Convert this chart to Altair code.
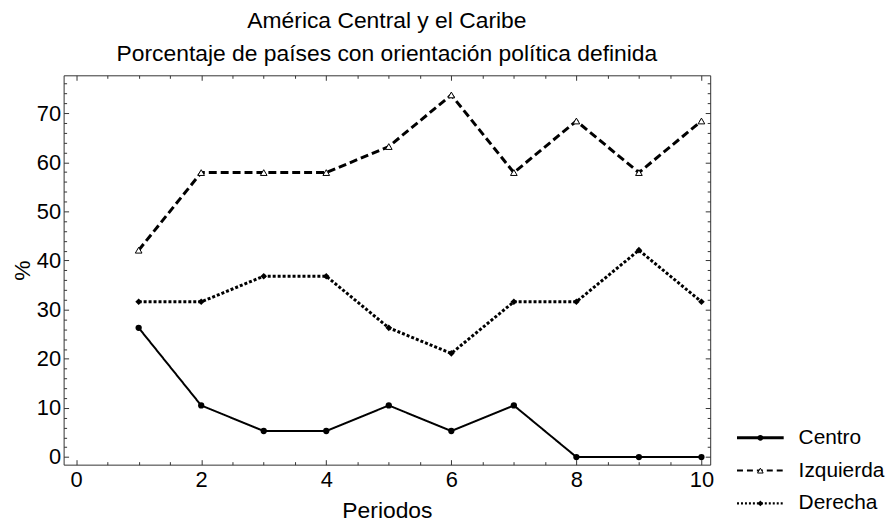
import altair as alt
import pandas as pd

# ---------------- data ----------------
periods = [1, 2, 3, 4, 5, 6, 7, 8, 9, 10]
centro = [26.3, 10.5, 5.3, 5.3, 10.5, 5.3, 10.5, 0.0, 0.0, 0.0]
izquierda = [42.1, 57.9, 57.9, 57.9, 63.2, 73.7, 57.9, 68.4, 57.9, 68.4]
derecha = [31.6, 31.6, 36.8, 36.8, 26.3, 21.1, 31.6, 31.6, 42.1, 31.6]
series = ["Centro", "Izquierda", "Derecha"]

x_major = [0, 2, 4, 6, 8, 10]
x_minor = [0.5, 1, 1.5, 2.5, 3, 3.5, 4.5, 5, 5.5, 6.5, 7, 7.5, 8.5, 9, 9.5]
y_major = [0, 10, 20, 30, 40, 50, 60, 70]
y_minor = [2, 4, 6, 8, 12, 14, 16, 18, 22, 24, 26, 28, 32, 34, 36, 38,
           42, 44, 46, 48, 52, 54, 56, 58, 62, 64, 66, 68, 72, 74, 76]

legend_x = [0, 1]
legend_mid = 0.5

# ---------------- styling ----------------
FONT = "Liberation Sans"
FS = 22        # tick labels
FS_T = 23      # titles
FRAME = "#333333"
XD = [-0.2, 10.14]
YD = [-1.55, 77.7]
W, H = 651, 392

line_styles = {
    "Centro": dict(strokeDash=[1, 0], strokeWidth=2),
    "Izquierda": dict(strokeDash=[8, 4], strokeWidth=3),
    "Derecha": dict(strokeDash=[3, 2], strokeWidth=3),
}
legend_line_styles = {
    "Centro": dict(strokeDash=[1, 0], strokeWidth=3),
    "Izquierda": dict(strokeDash=[6, 4], strokeWidth=2),
    "Derecha": dict(strokeDash=[2, 2], strokeWidth=2.5),
}
point_styles = {
    "Centro": dict(shape="circle", filled=True, color="black", size=40),
    "Izquierda": dict(shape="triangle-up", filled=True, fill="white", stroke="black",
                      strokeWidth=1, size=45),
    "Derecha": dict(shape="diamond", filled=True, color="black", size=45),
}

rows = []
for name, vals in zip(series, [centro, izquierda, derecha]):
    for p, v in zip(periods, vals):
        rows.append({"Periodo": p, "Valor": v, "Serie": name})
df = pd.DataFrame(rows)


def xenc(axis):
    return alt.X("Periodo:Q", scale=alt.Scale(domain=XD, nice=False, zero=False), axis=axis)


def yenc(axis):
    return alt.Y("Valor:Q", scale=alt.Scale(domain=YD, nice=False, zero=False), axis=axis)


def tick_axis(orient, values, size, labeled=False, title=None, title_padding=0,
              label_padding=3):
    kw = dict(orient=orient, values=values, tickSize=size, offset=-size,
              domain=False, grid=False, tickColor=FRAME, tickWidth=1,
              labels=labeled, title=title)
    if labeled:
        kw.update(labelFontSize=FS, labelFont=FONT, labelColor="black",
                  labelPadding=label_padding, labelFlush=False, labelOverlap=False,
                  titleFontSize=FS_T, titleFont=FONT, titleFontWeight="normal",
                  titleColor="black", titlePadding=title_padding)
    return alt.Axis(**kw)


layers = []
first = True
for name in series:
    base = alt.Chart(df).transform_filter(alt.datum.Serie == name)
    if first:
        ax_x = tick_axis("bottom", x_major, 5, labeled=True, title="Periodos",
                         title_padding=9, label_padding=5)
        ax_y = tick_axis("left", y_major, 5, labeled=True, title="%",
                         title_padding=2, label_padding=3)
        first = False
    else:
        ax_x = None
        ax_y = None
    layers.append(base.mark_line(color="black", **line_styles[name]).encode(
        x=xenc(ax_x), y=yenc(ax_y)))

for name in series:
    base = alt.Chart(df).transform_filter(alt.datum.Serie == name)
    layers.append(base.mark_point(opacity=1, **point_styles[name]).encode(
        x=xenc(None), y=yenc(None)))

ghost = alt.Chart(df).mark_point(opacity=0)
layers.append(ghost.encode(x=xenc(tick_axis("bottom", x_minor, 3)),
                           y=yenc(tick_axis("left", y_minor, 3))))
layers.append(ghost.encode(x=xenc(tick_axis("top", x_major, 5)),
                           y=yenc(tick_axis("right", y_major, 5))))
layers.append(ghost.encode(x=xenc(tick_axis("top", x_minor, 3)),
                           y=yenc(tick_axis("right", y_minor, 3))))

main = alt.layer(*layers).resolve_scale(x="independent", y="independent").properties(
    width=W, height=H,
    view=alt.ViewBackground(stroke=FRAME, strokeWidth=1),
    title=alt.TitleParams(
        text=["América Central y el Caribe",
              "Porcentaje de países con orientación política definida"],
        fontSize=FS_T, font=FONT, fontWeight="normal", color="black",
        lineHeight=33, offset=9, anchor="middle", frame="group"),
)

# ---------------- legend panel ----------------
leg_rows = []
for name in series:
    for xv in legend_x:
        leg_rows.append({"lx": xv, "Serie": name})
leg_df = pd.DataFrame(leg_rows)
mid_df = pd.DataFrame({"lx": [legend_mid] * len(series), "Serie": series})
txt_df = pd.DataFrame({"lx": [legend_x[-1]] * len(series), "Serie": series})

lx = alt.X("lx:Q", scale=alt.Scale(domain=[0, 1], nice=False, zero=False), axis=None)
ly = alt.Y("Serie:N", scale=alt.Scale(type="point", domain=series, range=[365, 431], padding=0),
           axis=None)

leg_layers = []
for name in series:
    leg_layers.append(alt.Chart(leg_df).transform_filter(alt.datum.Serie == name)
                      .mark_line(color="black", **legend_line_styles[name]).encode(x=lx, y=ly))
for name in series:
    ps = dict(point_styles[name])
    ps["size"] = 32
    leg_layers.append(alt.Chart(mid_df).transform_filter(alt.datum.Serie == name)
                      .mark_point(opacity=1, **ps).encode(x=lx, y=ly))
leg_layers.append(alt.Chart(txt_df).mark_text(align="left", baseline="middle", dx=15,
                                              fontSize=21, font=FONT, color="black")
                  .encode(x=lx, y=ly, text="Serie:N"))

legend = alt.layer(*leg_layers).properties(
    width=47, height=H, view=alt.ViewBackground(strokeOpacity=0))

chart = alt.hconcat(main, legend, spacing=27, bounds="flush").resolve_scale(
    x="independent", y="independent").properties(
    padding={"left": 3, "top": 0, "right": 0, "bottom": 0}, background="white")

chart.save("out.html", embed_options={"renderer": "svg", "actions": False})
